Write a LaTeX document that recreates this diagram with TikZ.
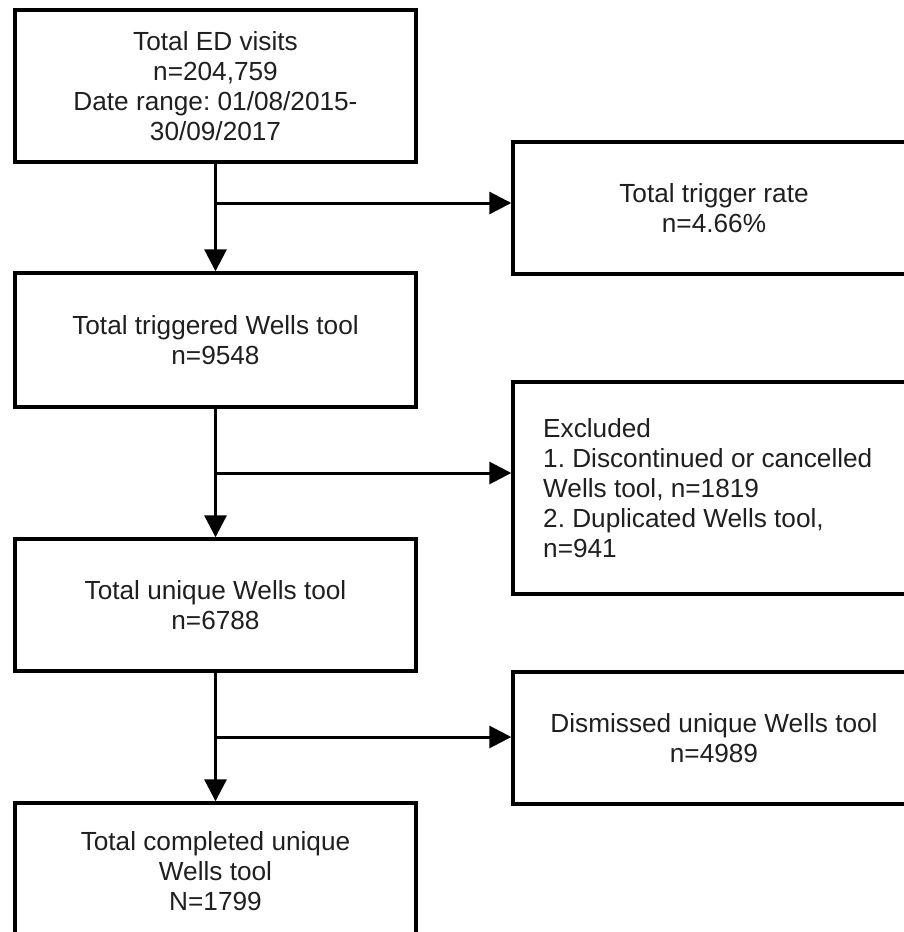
\documentclass[tikz,border=0pt]{standalone}
\usepackage{fontspec}
\setmainfont{Liberation Sans}
\usetikzlibrary{arrows.meta}
\frenchspacing
\begin{document}
\begin{tikzpicture}[x=1pt,y=-1pt,
  box/.style={draw=black, line width=3.4pt, inner sep=0pt, align=center,
    text=black!88, font=\fontsize{26.2}{30}\selectfont},
  txt/.style={inner sep=0pt, align=left, text=black!88, font=\fontsize{26.2}{30}\selectfont},
  conn/.style={draw=black, line width=3pt, -{Triangle[length=22pt,width=22pt]}}]
\useasboundingbox (0,0) rectangle (904,932);
\clip (0,0) rectangle (904,932);
\node[box, minimum width=401pt, minimum height=152pt] (b1) at (215.5,86)
  {Total ED visits\\n=204,759\\Date range: 01/08/2015-\\30/09/2017};
\node[box, minimum width=402pt, minimum height=132pt] (b2) at (714,208)
  {Total trigger rate\\n=4.66\%};
\node[box, minimum width=401pt, minimum height=134pt] (b3) at (215.5,340)
  {Total triggered Wells tool\\n=9548};
\node[box, minimum width=402pt, minimum height=212pt] (b4) at (714,488) {};
\node[txt, anchor=west] (t4) at (543,488)
  {Excluded\\1. Discontinued or cancelled\\Wells tool, n=1819\\2. Duplicated Wells tool,\\n=941};
\node[box, minimum width=401pt, minimum height=132pt] (b5) at (215.5,605)
  {Total unique Wells tool\\n=6788};
\node[box, minimum width=402pt, minimum height=132pt] (b6) at (714,738)
  {Dismissed unique Wells tool\\n=4989};
\node[box, minimum width=401pt, minimum height=136pt] (b7) at (215.5,871)
  {Total completed unique\\Wells tool\\N=1799};
\coordinate (j1) at (215.5,203);
\coordinate (j2) at (215.5,473);
\coordinate (j3) at (215.5,737);
\draw[conn] (b1) -- (b3);
\draw[conn] (b3) -- (b5);
\draw[conn] (b5) -- (b7);
\draw[conn] (j1) -- (j1 -| b2.west);
\draw[conn] (j2) -- (j2 -| b4.west);
\draw[conn] (j3) -- (j3 -| b6.west);
\end{tikzpicture}
\end{document}
